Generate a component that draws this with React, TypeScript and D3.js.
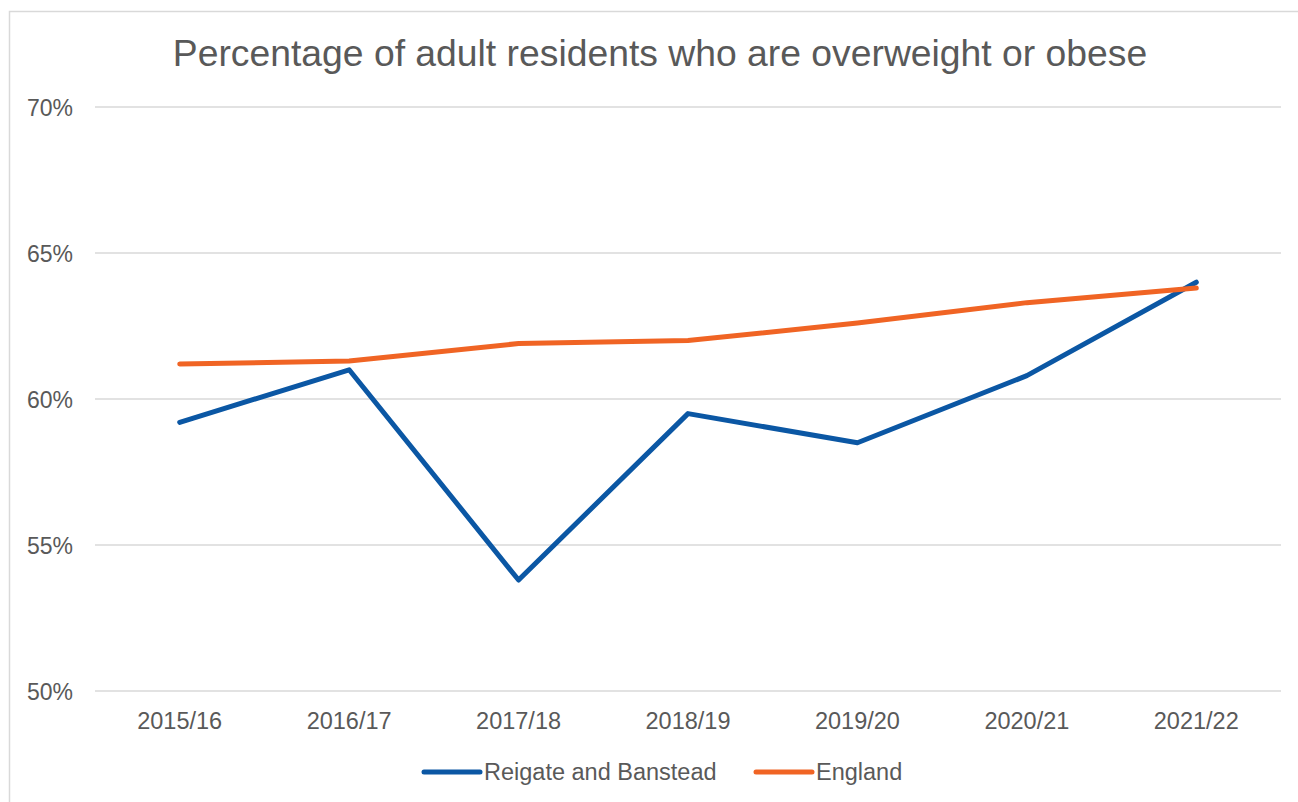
import { useEffect, useRef } from "react";
import * as d3 from "d3";

const years = ["2015/16", "2016/17", "2017/18", "2018/19", "2019/20", "2020/21", "2021/22"];
const reigate = [59.2, 61.0, 53.8, 59.5, 58.5, 60.8, 64.0];
const england = [61.2, 61.3, 61.9, 62.0, 62.6, 63.3, 63.8];
const yTicks = [50, 55, 60, 65, 70];

const seriesList = [
  { name: "Reigate and Banstead", values: reigate, color: "#0B57A4" },
  { name: "England", values: england, color: "#F06424" },
];

export default function App() {
  const ref = useRef<SVGSVGElement>(null);

  useEffect(() => {
    const width = 1298;
    const height = 802;
    const margin = { left: 95, right: 17, top: 107, bottom: 111 };
    const font = "'Liberation Sans', Arial, sans-serif";
    const textColor = "#595959";

    const svg = d3.select(ref.current);
    svg.selectAll("*").remove();
    svg.attr("width", width).attr("height", height).style("font-family", font);

    svg
      .append("rect")
      .attr("x", 9.5)
      .attr("y", 11.5)
      .attr("width", width + 20)
      .attr("height", height + 20)
      .attr("fill", "#fff")
      .attr("stroke", "#d9d9d9")
      .attr("stroke-width", 1.5);

    svg
      .append("text")
      .attr("x", 660)
      .attr("y", 66)
      .attr("text-anchor", "middle")
      .attr("fill", textColor)
      .style("font-size", "37.3px")
      .text("Percentage of adult residents who are overweight or obese");

    const x = d3
      .scaleBand()
      .domain(years)
      .range([margin.left, width - margin.right]);

    const y = d3
      .scaleLinear()
      .domain([50, 70])
      .range([height - margin.bottom, margin.top]);

    // gridlines
    svg
      .append("g")
      .selectAll("line")
      .data(yTicks)
      .join("line")
      .attr("x1", margin.left)
      .attr("x2", width - margin.right)
      .attr("y1", (d) => y(d))
      .attr("y2", (d) => y(d))
      .attr("stroke", "#d9d9d9")
      .attr("stroke-width", 1.5);

    svg
      .append("g")
      .selectAll("text")
      .data(yTicks)
      .join("text")
      .attr("x", 73)
      .attr("y", (d) => y(d) + 8.5)
      .attr("text-anchor", "end")
      .attr("fill", textColor)
      .style("font-size", "23px")
      .text((d) => `${d}%`);

    svg
      .append("g")
      .selectAll("text")
      .data(years)
      .join("text")
      .attr("x", (d) => (x(d) ?? 0) + x.bandwidth() / 2)
      .attr("y", 729)
      .attr("text-anchor", "middle")
      .attr("fill", textColor)
      .style("font-size", "23.5px")
      .text((d) => d);

    const line = d3
      .line<number>()
      .x((_, i) => (x(years[i]) ?? 0) + x.bandwidth() / 2)
      .y((d) => y(d));

    svg
      .append("g")
      .selectAll("path")
      .data(seriesList)
      .join("path")
      .attr("d", (d) => line(d.values))
      .attr("fill", "none")
      .attr("stroke", (d) => d.color)
      .attr("stroke-width", 5)
      .attr("stroke-linecap", "round")
      .attr("stroke-linejoin", "round");

    // legend
    const legendX = [424, 756];
    const legend = svg
      .append("g")
      .selectAll("g")
      .data(seriesList)
      .join("g")
      .attr("transform", (_, i) => `translate(${legendX[i]},772)`);

    legend
      .append("line")
      .attr("x1", 0)
      .attr("x2", 56)
      .attr("stroke", (d) => d.color)
      .attr("stroke-width", 5)
      .attr("stroke-linecap", "round");

    legend
      .append("text")
      .attr("x", 60)
      .attr("y", 8)
      .attr("fill", textColor)
      .style("font-size", "23.5px")
      .text((d) => d.name);
  }, []);

  return (
    <svg
      ref={ref}
      style={{ position: "absolute", left: 0, top: 0, display: "block" }}
      role="img"
      aria-label="Percentage of adult residents who are overweight or obese"
    />
  );
}
